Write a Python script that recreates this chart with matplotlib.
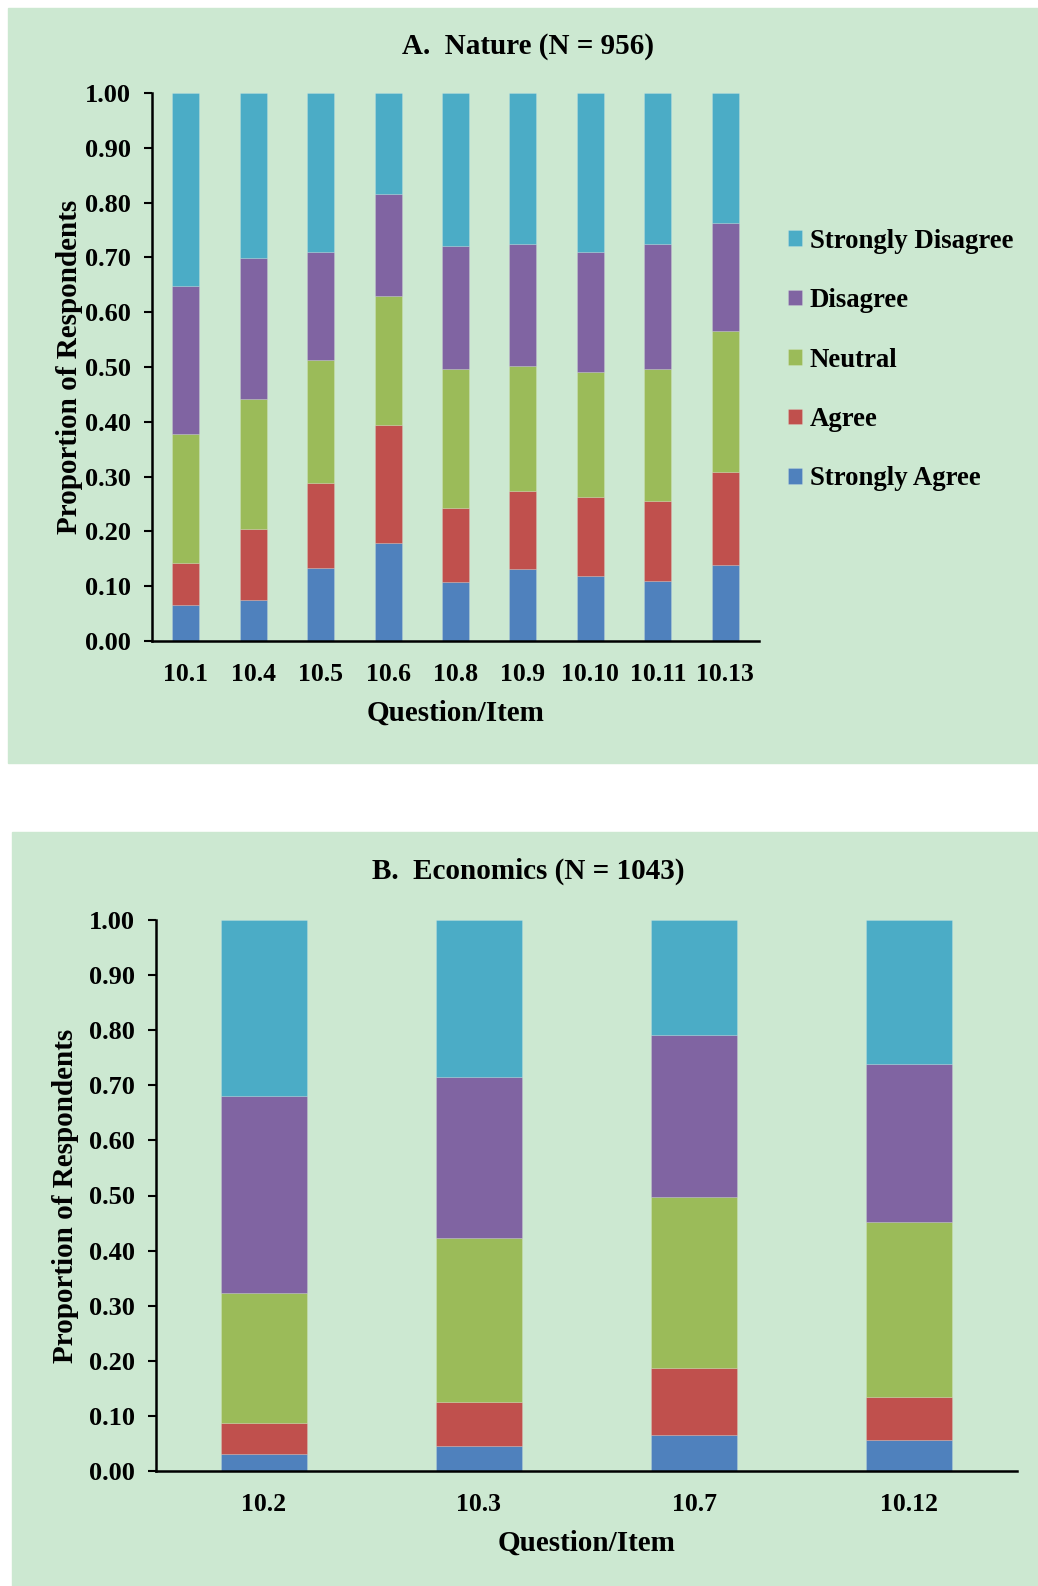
import matplotlib
matplotlib.use("Agg")
import matplotlib.pyplot as plt
import numpy as np
from matplotlib.patches import Rectangle

plt.rcParams["font.family"] = ["Liberation Serif", "DejaVu Serif"]
plt.rcParams["font.weight"] = "bold"

# donnees (proportions par modalite)
categories = ["Strongly Agree", "Agree", "Neutral", "Disagree", "Strongly Disagree"]
couleurs = ["#4f81bd", "#c0504d", "#9bbb59", "#8064a2", "#4bacc6"]

items_nature = ["10.1", "10.4", "10.5", "10.6", "10.8", "10.9", "10.10", "10.11", "10.13"]
nature_sa = [0.066, 0.075, 0.134, 0.178, 0.108, 0.131, 0.119, 0.109, 0.139]
nature_a = [0.077, 0.129, 0.154, 0.217, 0.134, 0.143, 0.143, 0.146, 0.169]
nature_n = [0.235, 0.238, 0.225, 0.234, 0.255, 0.227, 0.228, 0.242, 0.257]
nature_d = [0.270, 0.256, 0.197, 0.187, 0.223, 0.223, 0.220, 0.227, 0.198]
nature_sd = [0.352, 0.302, 0.290, 0.184, 0.280, 0.276, 0.290, 0.276, 0.237]

items_eco = ["10.2", "10.3", "10.7", "10.12"]
eco_sa = [0.031, 0.045, 0.065, 0.057]
eco_a = [0.056, 0.081, 0.122, 0.078]
eco_n = [0.236, 0.296, 0.311, 0.316]
eco_d = [0.358, 0.293, 0.293, 0.287]
eco_sd = [0.319, 0.285, 0.209, 0.262]

FOND = "#cce8d1"
W, H = 1038, 1586


def px_axes(x0, y0, x1, y1):
    return [x0 / W, 1 - y1 / H, (x1 - x0) / W, (y1 - y0) / H]


def tracer_panneau(ax, items, series, pad_ylabel):
    x = np.arange(len(items))
    bas = np.zeros(len(items))
    barres = []
    for valeurs, couleur, nom in zip(series, couleurs, categories):
        b = ax.bar(x, valeurs, 0.4, bottom=bas, color=couleur, label=nom,
                   edgecolor="#ffffff30", linewidth=0.6)
        barres.append(b)
        bas = bas + np.array(valeurs)
    ax.set_facecolor("none")
    ax.set_xlim(-0.5, len(items) - 0.5)
    ax.set_ylim(0, 1.0)
    ax.set_yticks(np.arange(0, 1.01, 0.1))
    ax.set_yticklabels([f"{v:.2f}" for v in np.arange(0, 1.01, 0.1)])
    ax.set_xticks(x)
    ax.set_xticklabels(items)
    for cote in ("top", "right"):
        ax.spines[cote].set_visible(False)
    ax.spines["left"].set_linewidth(1.8)
    ax.spines["bottom"].set_linewidth(1.8)
    ax.tick_params(axis="y", length=6, width=1.5, pad=9, labelsize=19)
    ax.tick_params(axis="x", length=0, pad=16, labelsize=18.5)
    ax.set_xlabel("Question/Item", fontsize=21, fontweight="bold", labelpad=10)
    ax.set_ylabel("Proportion of Respondents", fontsize=21, fontweight="bold",
                  labelpad=pad_ylabel)
    return barres


fig = plt.figure(figsize=(W / 100, H / 100), dpi=100)
fig.patch.set_facecolor("white")
fig.add_artist(Rectangle((8 / W, 1 - 763 / H), (W - 8) / W, 755 / H,
                         transform=fig.transFigure, color=FOND, zorder=0))
fig.add_artist(Rectangle((12 / W, 0), (W - 12) / W, (H - 832) / H,
                         transform=fig.transFigure, color=FOND, zorder=0))

ax1 = fig.add_axes(px_axes(152, 93, 759, 641))
barres = tracer_panneau(ax1, items_nature,
                        [nature_sa, nature_a, nature_n, nature_d, nature_sd], 1.5)
fig.text(528 / W, 1 - 47 / H, "A.  Nature (N = 956)", ha="center", va="center",
         fontsize=21, fontweight="bold")
leg = ax1.legend(barres[::-1], categories[::-1], loc="center left",
                 bbox_to_anchor=(788 / W, 1 - 360 / H), bbox_transform=fig.transFigure,
                 frameon=False, fontsize=19.25, handlelength=0.52, handleheight=0.52,
                 handletextpad=0.3, labelspacing=1.29, borderpad=0, borderaxespad=0)

ax2 = fig.add_axes(px_axes(156, 920, 1017, 1471))
tracer_panneau(ax2, items_eco, [eco_sa, eco_a, eco_n, eco_d, eco_sd], 7.5)
fig.text(528 / W, 1 - 871 / H, "B.  Economics (N = 1043)", ha="center", va="center",
         fontsize=21, fontweight="bold")

fig.savefig("out.png", dpi=100)
